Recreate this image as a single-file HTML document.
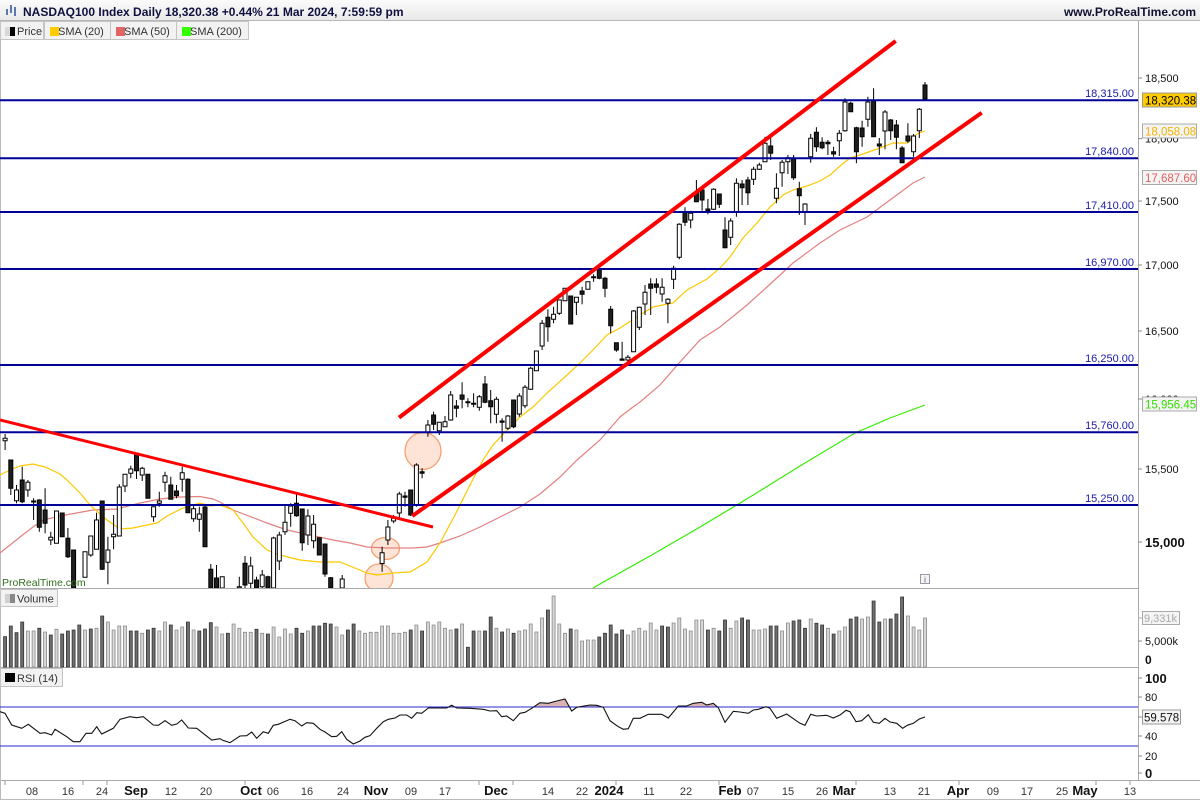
<!DOCTYPE html>
<html><head><meta charset="utf-8"><style>
html,body{margin:0;padding:0;background:#fff;width:1200px;height:800px;overflow:hidden}
svg{display:block}
text{font-family:"Liberation Sans",Arial,sans-serif}
</style></head><body>
<svg width="1200" height="800" viewBox="0 0 1200 800" xmlns="http://www.w3.org/2000/svg">
<defs>
<linearGradient id="hg" x1="0" y1="0" x2="0" y2="1"><stop offset="0" stop-color="#fbfbfb"/><stop offset="1" stop-color="#e9e9e9"/></linearGradient>
<clipPath id="pc"><rect x="0" y="21" width="1138" height="567"/></clipPath>
<clipPath id="ob"><rect x="0" y="668" width="1138" height="39"/></clipPath>
</defs>
<rect width="1200" height="800" fill="#fff"/>
<!-- header -->
<rect x="0" y="0" width="1200" height="20" fill="url(#hg)"/>
<line x1="0" y1="20.5" x2="1200" y2="20.5" stroke="#b8b8b8"/>
<g fill="#5a78b0"><rect x="6" y="9" width="2" height="6"/><rect x="10" y="5" width="2" height="8"/><rect x="14" y="7" width="2" height="9"/></g>
<text x="23" y="16" font-size="12" font-weight="bold" fill="#101040">NASDAQ100 Index Daily 18,320.38 +0.44% 21 Mar 2024, 7:59:59 pm</text>
<text x="1196" y="16" font-size="12" font-weight="bold" fill="#101030" text-anchor="end">www.ProRealTime.com</text>

<!-- frame lines -->
<line x1="1138.5" y1="21" x2="1138.5" y2="780" stroke="#aaa"/>
<line x1="0" y1="588.5" x2="1138" y2="588.5" stroke="#aaa"/>
<line x1="0" y1="667.5" x2="1138" y2="667.5" stroke="#aaa"/>
<line x1="0" y1="780.5" x2="1200" y2="780.5" stroke="#aaa"/>
<line x1="0.5" y1="21" x2="0.5" y2="800" stroke="#bbb"/>
<line x1="0" y1="799.5" x2="1200" y2="799.5" stroke="#bbb"/>

<g clip-path="url(#pc)">
<!-- ellipses -->
<g fill="#fde4d7" stroke="#f4a272" stroke-width="1.3">
<ellipse cx="423" cy="451" rx="18" ry="18.5"/>
<ellipse cx="385.5" cy="548.5" rx="14" ry="11"/>
<ellipse cx="379" cy="578" rx="14" ry="14"/>
</g>
<!-- SMAs -->
<polyline fill="none" stroke="#33ee00" stroke-width="1.2" points="593,588 607,580 650,556 700,527 750,497 800,466 855,433 890,418 925,405"/>
<polyline fill="none" stroke="#e48080" stroke-width="1.2" points="0,553 20,537 33,527 43,520 60,516 93,510 117,509 140,503 160,499 180,497 200,496.5 213,499 220,502 233,510 267,523 287,530 310,535 333,540 350,543 367,547 387,548 413,548 427,547 440,543 460,536 480,527 500,517 520,507 540,494 560,477 577,460 600,440 620,417 633,407 640,402 660,385 680,362 700,340 720,327 747,305 767,287 793,263 820,243 840,230 867,217 890,200 913,183 925,177"/>
<polyline fill="none" stroke="#ffc800" stroke-width="1.2" points="0,475 10,470 20,466 33,464 45,467 60,474 67,480 80,493 90,505 100,514 107,520 120,529 133,528 147,525 157,523 167,516 183,508 200,503 210,506 220,505 233,510 243,523 253,537 267,550 280,555 300,560 320,562 340,562 350,566 367,573 377,575 393,573 410,572 427,562 440,543 455,515 470,485 483,460 493,445 507,430 520,417 533,407 547,393 567,375 580,363 593,350 607,335 620,328 640,315 653,307 673,303 687,290 707,279 720,268 730,257 743,238 757,223 770,207 783,195 793,190 807,186 820,181 830,175 840,166 850,158 863,154 880,148 893,143 907,143 917,134 925,131"/>
<!-- wicks -->
<path fill="none" stroke="#000" stroke-width="1" d="M925 82V99.5M919.3 108V138M913.6 134V156.7M907.9 123.3V143M902.1 146V163M896.4 120V149.3M890.7 119V140M885 110V149.3M879.3 138V155M873.6 88.3V136.7M867.9 96.7V126.7M862.1 120.7V146.7M856.4 126.7V163.3M850.7 101.7V111.7M845 98.3V131.7M839.3 130V156M833.6 146.7V156.7M827.9 140V155M822.1 137.3V149.3M816.4 127.3V151.7M810.7 134V162.7M805 203.3V225M799.3 181.7V215M793.6 155V180M787.9 155V174M782.1 160V186.7M776.4 173.3V203.3M770.7 138V160M765 136.7V162M759.3 162.7V170M753.6 166.7V185M747.9 176.7V205M742.1 180V205M736.4 178.3V216.7M730.7 218.3V245M725 217.3V248.3M719.3 194V208M713.6 188.3V210M707.9 199V214.3M702.1 188.3V210.7M696.4 180V201.7M690.7 210.7V228.3M685 207.3V226M679.3 223.3V259.3M673.6 265.7V289M667.9 298.3V323.3M662.1 278.3V301.7M656.4 278.3V293.3M650.7 278.3V315M645 285V315M639.3 306.7V330M633.6 310V352M627.9 355V363.3M622.1 341.7V360.3M616.4 342.7V351.7M610.7 306V333.3M605 276.7V297.3M599.3 266.7V279.3M593.6 274.3V281.7M587.9 281.7V289.3M582.1 286.7V304.3M576.4 297.3V315M570.7 296V324.3M565 288.3V300.7M559.3 300V315M553.6 306.7V323.3M547.9 309.3V341.7M542.1 320V350M536.4 350.7V370.7M530.7 366.7V390M525 385V408.3M519.3 393.3V416.7M513.6 400V428.3M507.9 415V430M502.1 418.3V441.7M496.4 396.7V423.3M490.7 390V423.3M485 376V403.3M479.3 395V410.7M473.6 393.3V407.3M467.9 398.3V407.3M462.1 382.3V408.3M456.4 400V417.3M450.7 391V420.7M445 416V426.7M439.3 422.3V435M433.6 411.7V430M427.9 420V436.7M422.1 468.3V478.3M416.4 463.3V506.7M410.7 490V516M405 491.7V506.7M399.3 491.7V518.3M393.6 515V523.3M387.9 520V545M382.1 546.7V571.7M342.2 575V588M330.7 577V588M325 544V576.7M319.3 537.7V555M313.6 515V548.3M307.9 509.3V545M302.2 509V550.7M296.5 493.3V516.7M290.7 503.3V526.7M285 505V535M279.3 531.7V570M273.6 536.7V588M267.9 575.7V588M262.2 570V588M256.5 576.7V588M250.7 556.7V588M245 556V588M239.3 576.7V588M222.2 576.7V588M216.5 565V588M210.8 564V588M205 505V546.7M199.3 506.7V531.7M193.6 505V521.7M187.9 478.3V512.7M182.2 466.7V491.7M176.5 485V498.3M170.8 476.7V499.3M165 471.7V491.7M159.3 491.7V506.7M153.6 506.7V521.7M147.9 474.3V498.3M142.2 466.7V481M136.5 453.3V479M130.8 465.7V478.3M125 474.3V492M119.3 484.3V536M113.6 515V549.3M107.9 536.7V584.3M102.2 501V570M96.5 512.7V549.3M90.8 536V556.7M85 551.7V577.3M73.6 550V588M67.9 528V558M62.2 513V536.7M56.5 511V543.3M50.8 531.7V545M45.1 488.3V533.3M39.3 499.3V531.7M33.6 498.3V520M27.9 480V496.7M22.2 466.7V503.3M16.5 485V503.3M10.8 460V495M5.1 434V450"/>
<!-- white bodies -->
<path fill="#fff" stroke="#000" stroke-width="1" d="M917.3 109.3h4v21.4h-4zM911.6 136h4v15.7h-4zM883 112h4v19h-4zM865.9 102h4v17.3h-4zM843 102h4v28.7h-4zM837.3 133.3h4v7.4h-4zM808.7 138.3h4v18.4h-4zM803 204h4v7.7h-4zM785.9 157.7h4v4h-4zM780.1 162.3h4v10.4h-4zM774.4 188.3h4v10h-4zM763 143.3h4v18.4h-4zM757.3 165h4v4.3h-4zM751.6 169.3h4v10h-4zM734.4 183.3h4v28.4h-4zM728.7 221h4v16.3h-4zM711.6 189.3h4v20h-4zM688.7 213.3h4v6.7h-4zM677.3 224.3h4v33h-4zM671.6 268.3h4v11h-4zM665.9 299.3h4v4h-4zM660.1 287.3h4v6.7h-4zM643 292.3h4v11.7h-4zM637.3 307.3h4v20h-4zM631.6 311h4v40.7h-4zM625.9 357.3h4v2.7h-4zM585.9 281.7h4v7.6h-4zM574.4 297.3h4v5h-4zM563 288.3h4v12.4h-4zM557.3 300h4v13.3h-4zM551.6 314.3h4v5h-4zM540.1 323.3h4v22.7h-4zM534.4 351h4v19.7h-4zM528.7 368.3h4v21h-4zM523 387.3h4v18.4h-4zM517.3 396h4v18h-4zM505.9 416h4v12.3h-4zM494.4 399.3h4v15h-4zM477.3 396.7h4v10.6h-4zM448.7 395h4v25h-4zM443 421.7h4v5h-4zM437.3 422.3h4v8.4h-4zM425.9 425h4v7h-4zM414.4 465h4v40h-4zM397.3 494h4v19h-4zM391.6 518.3h4v2.7h-4zM385.9 527h4v13h-4zM380.1 552.7h4v10.8h-4zM340.2 579h4v9h-4zM311.6 524.3h4v16.4h-4zM305.9 516h4v19h-4zM288.7 506h4v7.3h-4zM283 522.3h4v9.4h-4zM277.3 535h4v26h-4zM271.6 538h4v50h-4zM260.2 575h4v11.7h-4zM248.7 566h4v17.3h-4zM237.3 586.7h4v1.3h-4zM220.2 576.7h4v11.3h-4zM197.3 514h4v5.3h-4zM191.6 508.7h4v10h-4zM180.2 472.7h4v6.6h-4zM163 475.7h4v6.6h-4zM157.3 501h4v2.3h-4zM151.6 506.7h4v10h-4zM140.2 468.3h4v6.7h-4zM128.8 469h4v4.3h-4zM123 474.3h4v11.7h-4zM117.3 487h4v49h-4zM111.6 534.3h4v2.4h-4zM105.9 550h4v12.3h-4zM94.5 520h4v29.3h-4zM88.8 536h4v19h-4zM83 551.7h4v25.6h-4zM54.5 511h4v32.3h-4zM48.8 537.3h4v2.7h-4zM31.6 501h4v1h-4zM25.9 482.3h4v7.7h-4zM14.5 490h4v10.7h-4zM3.1 438.3h4v2.4h-4z"/>
<!-- black bodies -->
<path fill="#1e1e1e" stroke="#000" stroke-width="1" d="M923 85h4v14h-4zM905.9 136h4v5h-4zM900.1 148h4v14.7h-4zM894.4 125h4v12.3h-4zM888.7 120h4v10.7h-4zM877.3 144h4v2h-4zM871.6 100.7h4v36h-4zM860.1 128h4v8.7h-4zM854.4 127.7h4v24h-4zM848.7 103.3h4v8.4h-4zM831.6 151.7h4v2.3h-4zM825.9 142.3h4v1.4h-4zM820.1 142.3h4v5.4h-4zM814.4 132.3h4v14.4h-4zM797.3 188.7h4v7h-4zM791.6 158.3h4v19.4h-4zM768.7 146h4v7.3h-4zM745.9 180h4v12.7h-4zM740.1 184h4v3.7h-4zM723 230h4v17.7h-4zM717.3 194h4v10.3h-4zM705.9 209h4v1.7h-4zM700.1 190h4v10h-4zM694.4 192.7h4v9h-4zM683 211.7h4v10.6h-4zM654.4 284h4v3.3h-4zM648.7 284h4v4.3h-4zM620.1 359h4v1.3h-4zM614.4 342.7h4v7.3h-4zM608.7 309.3h4v16.4h-4zM603 278.3h4v10h-4zM597.3 269.3h4v9h-4zM591.6 276.7h4v1h-4zM580.1 291h4v3.3h-4zM568.7 296h4v28h-4zM545.9 317.3h4v9.4h-4zM511.6 400h4v26.7h-4zM500.1 421h4v1.3h-4zM488.7 400.7h4v6h-4zM483 384h4v18.3h-4zM471.6 403.3h4v1h-4zM465.9 401.7h4v1h-4zM460.1 395h4v4.3h-4zM454.4 406h4v2.3h-4zM431.6 415h4v9.3h-4zM420.1 471.7h4v1.6h-4zM408.7 490h4v25h-4zM403 496h4v1.3h-4zM328.7 577.7h4v10.3h-4zM323 544h4v30h-4zM317.3 537.7h4v17.3h-4zM300.2 509h4v33.7h-4zM294.5 503.3h4v12.4h-4zM265.9 576.7h4v11.3h-4zM254.5 580h4v8h-4zM243 563.3h4v21.7h-4zM214.5 578h4v10h-4zM208.8 569.3h4v18.7h-4zM203 507h4v39.7h-4zM185.9 479.3h4v33.4h-4zM174.5 491h4v4.7h-4zM168.8 485h4v14.3h-4zM145.9 474.3h4v24h-4zM134.5 453.3h4v17.4h-4zM100.2 501h4v68.3h-4zM71.6 550h4v38h-4zM65.9 538.3h4v18.4h-4zM60.2 513h4v23.7h-4zM43.1 510h4v13.3h-4zM37.3 500h4v27.3h-4zM20.2 480h4v21.7h-4zM8.8 460h4v28.3h-4z"/>
<!-- horizontal levels -->
<g stroke="#000099" stroke-width="2">
<line x1="0" y1="100.2" x2="1138" y2="100.2"/>
<line x1="0" y1="158.3" x2="1138" y2="158.3"/>
<line x1="0" y1="212" x2="1138" y2="212"/>
<line x1="0" y1="269" x2="1138" y2="269"/>
<line x1="0" y1="365" x2="1138" y2="365"/>
<line x1="0" y1="432.3" x2="1138" y2="432.3"/>
<line x1="0" y1="505" x2="1138" y2="505"/>
</g>
<!-- trend lines -->
<g stroke="#ff0000" stroke-linecap="butt">
<line x1="0" y1="420" x2="433" y2="527" stroke-width="3"/>
<line x1="399" y1="417.6" x2="895.7" y2="41" stroke-width="4"/>
<line x1="412.3" y1="516" x2="981.7" y2="112.7" stroke-width="4"/>
</g>
<text x="2" y="586" font-size="10.5" fill="#2f6e1c">ProRealTime.com</text>
<rect x="920.5" y="574.5" width="9" height="9" fill="#f4f4f4" stroke="#99a"/>
<text x="925" y="582.5" font-size="8" fill="#557" text-anchor="middle">i</text>
</g>

<!-- level labels -->
<g font-size="11" fill="#1a1aa8" text-anchor="end">
<text x="1134" y="97">18,315.00</text>
<text x="1134" y="155">17,840.00</text>
<text x="1134" y="209">17,410.00</text>
<text x="1134" y="266">16,970.00</text>
<text x="1134" y="362">16,250.00</text>
<text x="1134" y="429">15,760.00</text>
<text x="1134" y="502">15,250.00</text>
</g>

<!-- legend -->
<g font-size="11" fill="#333">
<rect x="0.5" y="21.5" width="43" height="18" fill="#f2f2f2" stroke="#c4c4c4"/>
<text x="17" y="35">Price</text>
<rect x="5" y="27" width="5" height="9" fill="#d8d8d8"/><rect x="10" y="27" width="5" height="9" fill="#000"/>
<rect x="44.5" y="21.5" width="66" height="18" fill="#f2f2f2" stroke="#c4c4c4"/>
<text x="58" y="35">SMA (20)</text>
<rect x="50" y="27" width="9" height="9" fill="#ffcc00"/>
<rect x="110.5" y="21.5" width="66" height="18" fill="#f2f2f2" stroke="#c4c4c4"/>
<text x="124" y="35">SMA (50)</text>
<rect x="116" y="27" width="9" height="9" fill="#e06666"/>
<rect x="176.5" y="21.5" width="72" height="18" fill="#f2f2f2" stroke="#c4c4c4"/>
<text x="190" y="35">SMA (200)</text>
<rect x="182" y="27" width="9" height="9" fill="#33ff00"/>
</g>

<!-- right price axis -->
<g stroke="#888"><line x1="1138" y1="78" x2="1142" y2="78"/><line x1="1138" y1="138.6" x2="1142" y2="138.6"/><line x1="1138" y1="201" x2="1142" y2="201"/><line x1="1138" y1="265" x2="1142" y2="265"/><line x1="1138" y1="331" x2="1142" y2="331"/><line x1="1138" y1="399" x2="1142" y2="399"/><line x1="1138" y1="469" x2="1142" y2="469"/><line x1="1138" y1="542" x2="1142" y2="542"/></g>
<g font-size="11" fill="#111">
<text x="1145" y="82">18,500</text>
<text x="1145" y="142.6">18,000</text>
<text x="1145" y="205">17,500</text>
<text x="1145" y="269">17,000</text>
<text x="1145" y="335">16,500</text>
<text x="1145" y="403">16,000</text>
<text x="1145" y="473">15,500</text>
<text x="1145" y="547" font-size="13" font-weight="bold">15,000</text>
</g>
<!-- value boxes -->
<rect x="1142.5" y="93" width="54" height="14" fill="#ffcc00" stroke="#999"/>
<text x="1145" y="104.5" font-size="11.5" fill="#000">18,320.38</text>
<rect x="1142.5" y="124" width="54" height="14" fill="#f4f4f4" stroke="#aaa"/>
<text x="1145" y="135.5" font-size="11.5" fill="#f2b400">18,058.08</text>
<rect x="1142.5" y="170.5" width="54" height="14" fill="#f4f4f4" stroke="#aaa"/>
<text x="1145" y="182" font-size="11.5" fill="#e06060">17,687.60</text>
<rect x="1142.5" y="397" width="54" height="14" fill="#f4f4f4" stroke="#aaa"/>
<text x="1145" y="408.5" font-size="11.5" fill="#33dd00">15,956.45</text>

<!-- volume -->
<rect x="0.5" y="589.5" width="57" height="17" fill="#f2f2f2" stroke="#c4c4c4"/>
<rect x="5" y="594" width="5" height="9" fill="#d0d0d0"/><rect x="10" y="594" width="5" height="9" fill="#888"/>
<text x="17" y="602.5" font-size="11" fill="#333">Volume</text>
<path fill="#6e6e6e" stroke="#333" stroke-width="0.8" d="M3.6 636.7h3V667h-3zM9.3 626h3V667h-3zM15 632.7h3V667h-3zM20.7 622h3V667h-3zM37.8 628.3h3V667h-3zM49.3 635h3V667h-3zM60.7 634h3V667h-3zM66.4 631h3V667h-3zM72.1 630h3V667h-3zM77.8 625h3V667h-3zM89.3 629h3V667h-3zM100.7 616h3V667h-3zM129.3 631h3V667h-3zM135 631h3V667h-3zM146.4 630h3V667h-3zM152.1 628.3h3V667h-3zM169.3 625h3V667h-3zM186.4 622h3V667h-3zM197.8 631h3V667h-3zM203.5 629h3V667h-3zM209.3 622.7h3V667h-3zM226.4 633.3h3V667h-3zM255 629.3h3V667h-3zM266.4 634h3V667h-3zM295 628.3h3V667h-3zM300.7 633.3h3V667h-3zM312.1 626h3V667h-3zM317.8 626h3V667h-3zM323.5 623.3h3V667h-3zM329.2 624h3V667h-3zM346.4 630h3V667h-3zM352.1 624h3V667h-3zM409.2 630h3V667h-3zM420.6 631h3V667h-3zM454.9 629h3V667h-3zM466.4 647.3h3V667h-3zM472.1 631h3V667h-3zM483.5 631h3V667h-3zM489.2 617h3V667h-3zM500.6 632h3V667h-3zM512.1 633.3h3V667h-3zM546.4 610h3V667h-3zM569.2 629h3V667h-3zM597.8 637h3V667h-3zM603.5 633.3h3V667h-3zM609.2 625h3V667h-3zM614.9 634h3V667h-3zM620.6 630h3V667h-3zM660.6 626h3V667h-3zM666.4 627h3V667h-3zM706.4 630h3V667h-3zM717.8 631h3V667h-3zM723.5 620h3V667h-3zM740.6 618h3V667h-3zM746.4 620h3V667h-3zM769.2 626h3V667h-3zM774.9 626h3V667h-3zM792.1 621h3V667h-3zM797.8 620h3V667h-3zM803.5 628.3h3V667h-3zM814.9 623.3h3V667h-3zM820.6 625h3V667h-3zM832.1 634h3V667h-3zM849.2 619h3V667h-3zM854.9 617h3V667h-3zM872.1 601h3V667h-3zM877.8 622h3V667h-3zM889.2 619h3V667h-3zM894.9 614h3V667h-3zM900.6 597h3V667h-3z"/>
<path fill="#d6d6d6" stroke="#8a8a8a" stroke-width="0.8" d="M26.4 631h3V667h-3zM32.1 631h3V667h-3zM43.6 632h3V667h-3zM55 629.3h3V667h-3zM83.5 630h3V667h-3zM95 628.3h3V667h-3zM106.4 622h3V667h-3zM112.1 630h3V667h-3zM117.8 626h3V667h-3zM123.5 626h3V667h-3zM140.7 633.3h3V667h-3zM157.8 631h3V667h-3zM163.5 622h3V667h-3zM175 630h3V667h-3zM180.7 627h3V667h-3zM192.1 630h3V667h-3zM215 627h3V667h-3zM220.7 634h3V667h-3zM232.1 624h3V667h-3zM237.8 628.3h3V667h-3zM243.5 632.3h3V667h-3zM249.2 632.3h3V667h-3zM260.7 633.3h3V667h-3zM272.1 627h3V667h-3zM277.8 637h3V667h-3zM283.5 629h3V667h-3zM289.2 634h3V667h-3zM306.4 631h3V667h-3zM335 627h3V667h-3zM340.7 635h3V667h-3zM357.8 631h3V667h-3zM363.5 633.3h3V667h-3zM369.2 632.3h3V667h-3zM375 632.3h3V667h-3zM380.6 626h3V667h-3zM386.4 626h3V667h-3zM392.1 633.3h3V667h-3zM397.8 633.3h3V667h-3zM403.5 632.3h3V667h-3zM414.9 625h3V667h-3zM426.4 622h3V667h-3zM432.1 625h3V667h-3zM437.8 622h3V667h-3zM443.5 628.3h3V667h-3zM449.2 630h3V667h-3zM460.6 624h3V667h-3zM477.8 631h3V667h-3zM494.9 628.3h3V667h-3zM506.4 629h3V667h-3zM517.8 631h3V667h-3zM523.5 630h3V667h-3zM529.2 624h3V667h-3zM534.9 632h3V667h-3zM540.6 618h3V667h-3zM552.1 596h3V667h-3zM557.8 624h3V667h-3zM563.5 633.3h3V667h-3zM574.9 630h3V667h-3zM580.6 641h3V667h-3zM586.4 640h3V667h-3zM592.1 640h3V667h-3zM626.4 635h3V667h-3zM632.1 631h3V667h-3zM637.8 628.3h3V667h-3zM643.5 631h3V667h-3zM649.2 623h3V667h-3zM654.9 630h3V667h-3zM672.1 623h3V667h-3zM677.8 618h3V667h-3zM683.5 629h3V667h-3zM689.2 631h3V667h-3zM694.9 620h3V667h-3zM700.6 620h3V667h-3zM712.1 628.3h3V667h-3zM729.2 628.3h3V667h-3zM734.9 621h3V667h-3zM752.1 630h3V667h-3zM757.8 630h3V667h-3zM763.5 629h3V667h-3zM780.6 631h3V667h-3zM786.4 623h3V667h-3zM809.2 619h3V667h-3zM826.4 628.3h3V667h-3zM837.8 631h3V667h-3zM843.5 627h3V667h-3zM860.6 619h3V667h-3zM866.4 617h3V667h-3zM883.5 619h3V667h-3zM906.4 616h3V667h-3zM912.1 627h3V667h-3zM917.8 630h3V667h-3zM923.5 618h3V667h-3z"/>
<line x1="1138" y1="618" x2="1142" y2="618" stroke="#aaa"/>
<rect x="1142.5" y="611.5" width="37" height="13" fill="#f4f4f4" stroke="#aaa"/>
<text x="1144" y="622" font-size="11" fill="#aaa">9,331k</text>
<line x1="1138" y1="641" x2="1142" y2="641" stroke="#888"/>
<text x="1145" y="645" font-size="11" fill="#111">5,000k</text>
<text x="1145" y="664" font-size="12" font-weight="bold" fill="#111">0</text>

<!-- RSI -->
<rect x="0.5" y="668.5" width="62" height="18" fill="#f2f2f2" stroke="#c4c4c4"/>
<rect x="5" y="673" width="10" height="9" fill="#000"/>
<text x="17" y="682" font-size="11" fill="#333">RSI (14)</text>
<g clip-path="url(#ob)">
<polygon fill="#dbb3b3" stroke="none" points="0,707 0,711.7 5,713.3 11.7,725 21.7,728.3 400,715 406.7,715 411.7,718.3 416.7,712.7 421.7,713.3 428.3,708 446.7,708 451.7,705.3 456.7,708 470,708.3 483.3,709.3 490,711 496.7,710.7 501.7,716.7 506.7,716 513.3,720.7 520,713.3 525,712.3 531.7,708.3 540,702.7 548.3,703.3 556.7,701 565,699 571.7,711 576.7,707.3 590,705 596.7,705.3 603.3,707.3 610,720.7 618.3,726.7 623.3,729.3 628.3,728.7 633.3,718.3 640,718.3 648.3,714.3 661.7,714.3 668.3,718 678.3,706 686.7,706 693.3,703.3 701.7,702.3 706.7,705 713.3,703.3 718.3,707.7 725,722.3 733.3,711.3 740,712 748.3,713.3 753.3,710 758.3,709.3 766,706.7 770,708.3 776.7,718.3 925,717 925,707"/>
</g>
<g stroke="#2a2acc" stroke-width="1"><line x1="0" y1="707" x2="1138" y2="707"/><line x1="0" y1="746" x2="1138" y2="746"/></g>
<polyline fill="none" stroke="#111" stroke-width="1.1" points="0,711.7 5,713.3 11.7,725 21.7,728.3 28.3,724.3 40,733.3 45,732.7 51.7,735 55,729.3 66.7,736.7 73.3,741.7 80,741.7 86,733.3 91.7,733.3 96.7,726.7 101.7,734 113.3,728.3 120,719.3 130,716.7 136.7,717.7 143.3,716.7 153.3,725 158.3,725.3 165,720.7 171.7,725.3 176.7,724 181.7,720 188.3,728 196.7,728.3 211.7,740 220,738.7 222.7,740.3 230,742.7 240,736 246.7,735.7 251.7,732 256.7,738.3 263.3,731.7 268.3,733.3 273.3,725.3 278.3,724.3 290,719.3 295,720.7 301.7,726 306.7,722.7 313.3,723.3 320,729.3 325,732 331.7,736.7 336.7,736.3 341.7,731.7 346.7,739.3 353.3,744 360,741 365,737.3 370,735.7 376.7,728.3 383.3,721.7 388.3,719.3 395,718 400,715 406.7,715 411.7,718.3 416.7,712.7 421.7,713.3 428.3,708 446.7,708 451.7,705.3 456.7,708 470,708.3 483.3,709.3 490,711 496.7,710.7 501.7,716.7 506.7,716 513.3,720.7 520,713.3 525,712.3 531.7,708.3 540,702.7 548.3,703.3 556.7,701 565,699 571.7,711 576.7,707.3 590,705 596.7,705.3 603.3,707.3 610,720.7 618.3,726.7 623.3,729.3 628.3,728.7 633.3,718.3 640,718.3 648.3,714.3 661.7,714.3 668.3,718 678.3,706 686.7,706 693.3,703.3 701.7,702.3 706.7,705 713.3,703.3 718.3,707.7 725,722.3 733.3,711.3 740,712 748.3,713.3 753.3,710 758.3,709.3 766,706.7 770,708.3 776.7,718.3 786.7,714 800,723.3 805,725.3 810.7,714.3 816.7,716 826.7,715.3 833.3,718 840,715 846,710.3 850,711.7 856,721.7 861.7,720.7 868.3,714.7 873.3,722.3 879.3,723.3 885,718.3 890,722 896.7,723.3 902.7,728.3 907.3,725.3 913.3,723.3 919.3,719 925,717"/>
<g stroke="#888"><line x1="1138" y1="678" x2="1142" y2="678"/><line x1="1138" y1="697" x2="1142" y2="697"/><line x1="1138" y1="736" x2="1142" y2="736"/><line x1="1138" y1="756" x2="1142" y2="756"/><line x1="1138" y1="773" x2="1142" y2="773"/></g>
<text x="1145" y="683" font-size="13" font-weight="bold" fill="#111">100</text>
<text x="1145" y="701" font-size="11" fill="#111">80</text>
<text x="1145" y="740" font-size="11" fill="#111">40</text>
<text x="1145" y="760" font-size="11" fill="#111">20</text>
<text x="1145" y="778" font-size="13" font-weight="bold" fill="#111">0</text>
<line x1="1138" y1="717" x2="1142" y2="717" stroke="#888"/>
<rect x="1142.5" y="710" width="38" height="14" fill="#f4f4f4" stroke="#999"/>
<text x="1144" y="721.5" font-size="11.5" fill="#111">59.578</text>

<!-- date axis -->
<g stroke="#999"><line x1="5" y1="781" x2="5" y2="785"/><line x1="83" y1="781" x2="83" y2="785"/><line x1="107" y1="781" x2="107" y2="785"/><line x1="245" y1="781" x2="245" y2="785"/><line x1="479" y1="781" x2="479" y2="785"/><line x1="513" y1="781" x2="513" y2="785"/><line x1="616" y1="781" x2="616" y2="785"/><line x1="719" y1="781" x2="719" y2="785"/><line x1="856" y1="781" x2="856" y2="785"/><line x1="959" y1="781" x2="959" y2="785"/><line x1="1096" y1="781" x2="1096" y2="785"/><line x1="1130" y1="781" x2="1130" y2="785"/></g>
<g font-size="11" fill="#333" text-anchor="middle">
<text x="32" y="795">08</text><text x="68" y="795">16</text><text x="102" y="795">24</text>
<text x="171" y="795">12</text><text x="206" y="795">20</text>
<text x="273" y="795">06</text><text x="307" y="795">16</text><text x="343" y="795">24</text>
<text x="411" y="795">09</text><text x="445" y="795">17</text>
<text x="548" y="795">14</text><text x="582" y="795">22</text>
<text x="649" y="795">11</text><text x="686" y="795">22</text>
<text x="753" y="795">07</text><text x="788" y="795">15</text>
<text x="822" y="795">26</text><text x="890" y="795">13</text><text x="924" y="795">21</text>
<text x="993" y="795">09</text><text x="1027" y="795">17</text><text x="1062" y="795">25</text><text x="1130" y="795">13</text>
</g>
<g font-size="13" font-weight="bold" fill="#111" text-anchor="middle">
<text x="136" y="795">Sep</text><text x="251" y="795">Oct</text><text x="376" y="795">Nov</text><text x="496" y="795">Dec</text><text x="609" y="795">2024</text><text x="730" y="795">Feb</text><text x="844" y="795">Mar</text><text x="958" y="795">Apr</text><text x="1085" y="795">May</text>
</g>
</svg>
</body></html>
